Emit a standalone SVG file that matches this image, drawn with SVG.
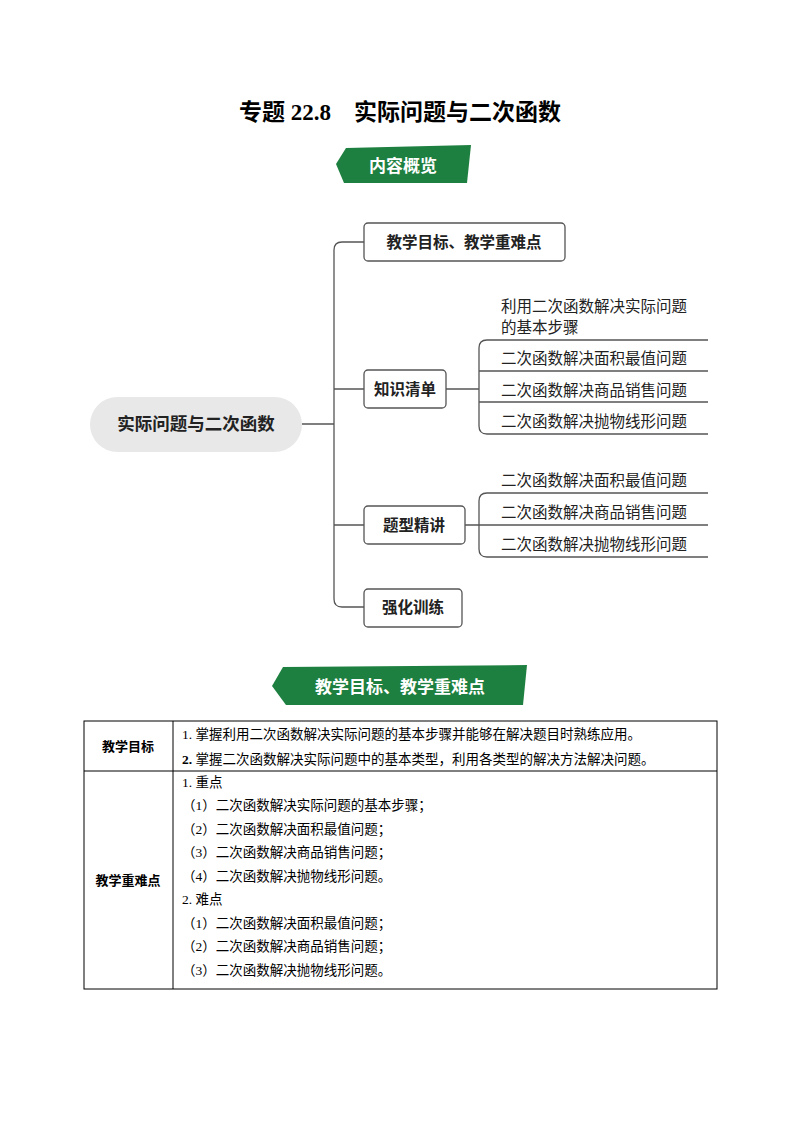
<svg xmlns="http://www.w3.org/2000/svg" width="800" height="1132" viewBox="0 0 800 1132">
<style>
.t{font-family:"Liberation Serif","Noto Sans CJK SC",serif;fill:#000}
.s{font-family:"Noto Sans CJK SC",sans-serif;fill:#222}
.b{font-weight:bold}
.box{fill:#fff;stroke:#555;stroke-width:1.3}
.ln{fill:none;stroke:#555;stroke-width:1.3}
.tb{fill:none;stroke:#000;stroke-width:1}
</style>
<rect width="800" height="1132" fill="#fff"/>
<text class="t b" x="400" y="120" font-size="23" text-anchor="middle">专题 22.8　实际问题与二次函数</text>
<g id="banner1">
<polygon points="346,148 471,145 467,183 344,183 336,164" fill="#1e8040"/>
<text class="s b" x="403" y="172" font-size="17" style="fill:#fff" text-anchor="middle">内容概览</text>
</g>
<g id="connectors">
<path class="ln" d="M302,424 H334 M364,242 H342 Q334,242 334,250 V599 Q334,607 342,607 H364 M334,389 H364 M334,525 H364"/>
<path class="ln" d="M446,389 H479 M708,340 H487 Q479,340 479,348 V426 Q479,434 487,434 H708 M479,371 H708 M479,402 H708"/>
<path class="ln" d="M465,525 H479 M708,493 H487 Q479,493 479,501 V549 Q479,557 487,557 H708 M479,525 H708"/>
</g>
<g id="center"><rect x="90" y="397" width="212" height="55" rx="27.5" fill="#e8e8e8"/>
<text class="s b" x="196" y="430" font-size="17.5" text-anchor="middle">实际问题与二次函数</text></g>
<g id="n1"><rect class="box" x="364" y="223" width="201" height="38" rx="4"/><text class="s b" x="464" y="248" font-size="15.5" text-anchor="middle">教学目标、教学重难点</text></g>
<g id="n2"><rect class="box" x="364" y="370" width="82" height="38" rx="4"/><text class="s b" x="405" y="395" font-size="15.5" text-anchor="middle">知识清单</text></g>
<g id="n3"><rect class="box" x="364" y="506" width="101" height="38" rx="4"/><text class="s b" x="414" y="531" font-size="15.5" text-anchor="middle">题型精讲</text></g>
<g id="n4"><rect class="box" x="364" y="589" width="98" height="38" rx="4"/><text class="s b" x="413" y="613" font-size="15.5" text-anchor="middle">强化训练</text></g>
<g id="k1"><text class="s" x="501" y="312" font-size="15.5">利用二次函数解决实际问题</text><text class="s" x="501" y="333" font-size="15.5">的基本步骤</text></g>
<g id="k2"><text class="s" x="501" y="364" font-size="15.5">二次函数解决面积最值问题</text></g>
<g id="k3"><text class="s" x="501" y="396" font-size="15.5">二次函数解决商品销售问题</text></g>
<g id="k4"><text class="s" x="501" y="427" font-size="15.5">二次函数解决抛物线形问题</text></g>
<g id="q1"><text class="s" x="501" y="486" font-size="15.5">二次函数解决面积最值问题</text></g>
<g id="q2"><text class="s" x="501" y="518" font-size="15.5">二次函数解决商品销售问题</text></g>
<g id="q3"><text class="s" x="501" y="550" font-size="15.5">二次函数解决抛物线形问题</text></g>
<g id="banner2">
<polygon points="283,667 527,665 523,705 286,705 272,686" fill="#1e8040"/>
<text class="s b" x="400" y="693" font-size="17" style="fill:#fff" text-anchor="middle">教学目标、教学重难点</text>
</g>
<g id="table">
<rect class="tb" x="84" y="721" width="633" height="268"/>
<line class="tb" x1="173" y1="721" x2="173" y2="989"/>
<line class="tb" x1="84" y1="771" x2="717" y2="771"/>
<text class="s b" x="128" y="751" font-size="13" text-anchor="middle" style="fill:#000">教学目标</text>
<text class="s b" x="128" y="885" font-size="13" text-anchor="middle" style="fill:#000">教学重难点</text>
<g class="t" font-size="13.5">
<text x="182" y="739">1. 掌握利用二次函数解决实际问题的基本步骤并能够在解决题目时熟练应用。</text>
<text x="182" y="764"><tspan font-weight="bold">2.</tspan> 掌握二次函数解决实际问题中的基本类型，利用各类型的解决方法解决问题。</text>
<text x="182" y="787">1. 重点</text>
<text x="182" y="810">（1）二次函数解决实际问题的基本步骤；</text>
<text x="182" y="834">（2）二次函数解决面积最值问题；</text>
<text x="182" y="857">（3）二次函数解决商品销售问题；</text>
<text x="182" y="881">（4）二次函数解决抛物线形问题。</text>
<text x="182" y="904">2. 难点</text>
<text x="182" y="928">（1）二次函数解决面积最值问题；</text>
<text x="182" y="951">（2）二次函数解决商品销售问题；</text>
<text x="182" y="975">（3）二次函数解决抛物线形问题。</text>
</g>
</g>
</svg>
